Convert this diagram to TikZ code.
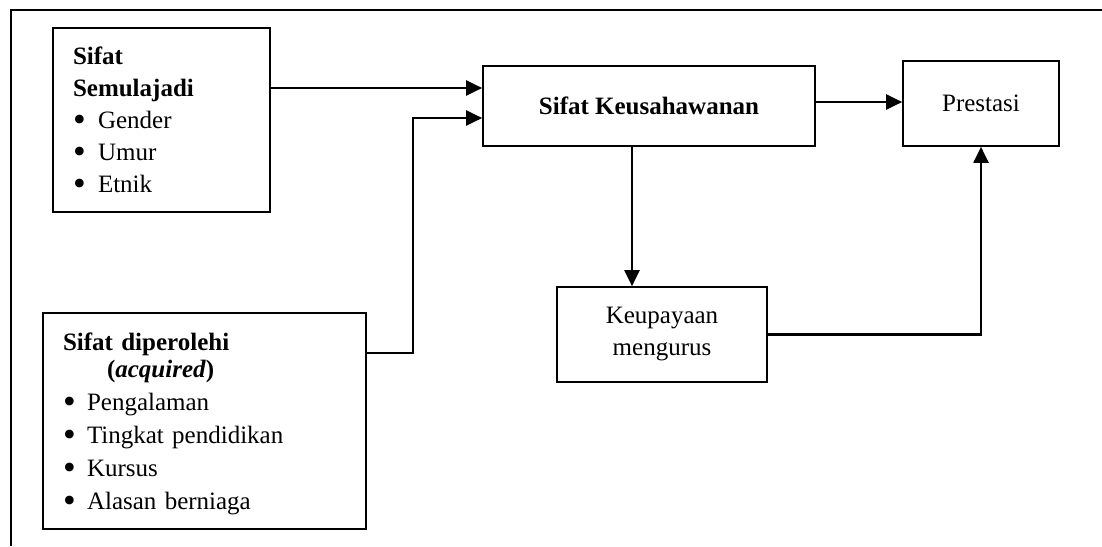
\documentclass[tikz,border=0pt]{standalone}
\usepackage{fontspec}
\setmainfont{Liberation Serif}
\usetikzlibrary{arrows.meta}
\newcommand{\bul}[1]{\makebox[#1][l]{\smash{\raisebox{-3.2pt}{\scalebox{1.45}{\textbullet}}}}}
\begin{document}
\begin{tikzpicture}[x=1pt,y=-1pt,
  box/.style={draw,line width=1.7pt,rectangle,inner sep=0pt,font=\fontsize{25}{32}\selectfont},
  listbox/.style={box,align=left,inner xsep=20pt,inner ysep=0pt},
  arr/.style={line width=2.2pt,-{Triangle[length=16pt,width=15pt]}},
  frame/.style={line width=1.6pt}]
\useasboundingbox (0,0) rectangle (1102,546);
\coordinate (ftr) at (1102,10);
\coordinate (ftl) at (11,10);
\coordinate (fbl) at (11,546);
\draw[frame] (ftr) -- (ftl) -- (fbl);

\node[listbox,text width=177pt,minimum height=184pt] (b1) at (161.5,120)
 {\textbf{Sifat}\\ \textbf{Semulajadi}\\
  \bul{25pt}Gender\\
  \bul{25pt}Umur\\
  \bul{25pt}Etnik};

\node[listbox,text width=283pt,minimum height=216pt,
      font=\fontsize{25}{33}\selectfont] (b2) at (204.5,421)
 {\mbox{}\\[-10pt]\textbf{Sifat diperolehi}\\[-6pt]
  \hspace*{44pt}\textbf{(\textit{acquired})}\\
  \bul{24pt}Pengalaman\\
  \bul{24pt}Tingkat pendidikan\\
  \bul{24pt}Kursus\\
  \bul{24pt}Alasan berniaga};

\node[box,minimum width=332pt,minimum height=80pt] (b3) at (649,106) {\raisebox{-3pt}{\textbf{Sifat Keusahawanan}}};
\node[box,minimum width=156pt,minimum height=85pt] (b4) at (981,103.5) {\raisebox{-1pt}{Prestasi}};
\node[box,align=center,minimum width=210pt,minimum height=95pt] (b5) at (662,334.5) {Keupayaan\\mengurus};

\coordinate (j1) at (413,353);
\coordinate (j2) at (413,118);

\draw[arr] (b1.east |- 0,88) -- (b3.west |- 0,88);
\draw[arr] (b2.east |- j1) -- (j1) -- (j2) -- (b3.west |- j2);
\draw[arr] (b3.east |- 0,102) -- (b4.west |- 0,102);
\draw[arr] (b3.south -| 632,0) -- (b5.north -| 632,0);
\draw[arr] (b5.east) -| (b4.south);
\end{tikzpicture}
\end{document}
